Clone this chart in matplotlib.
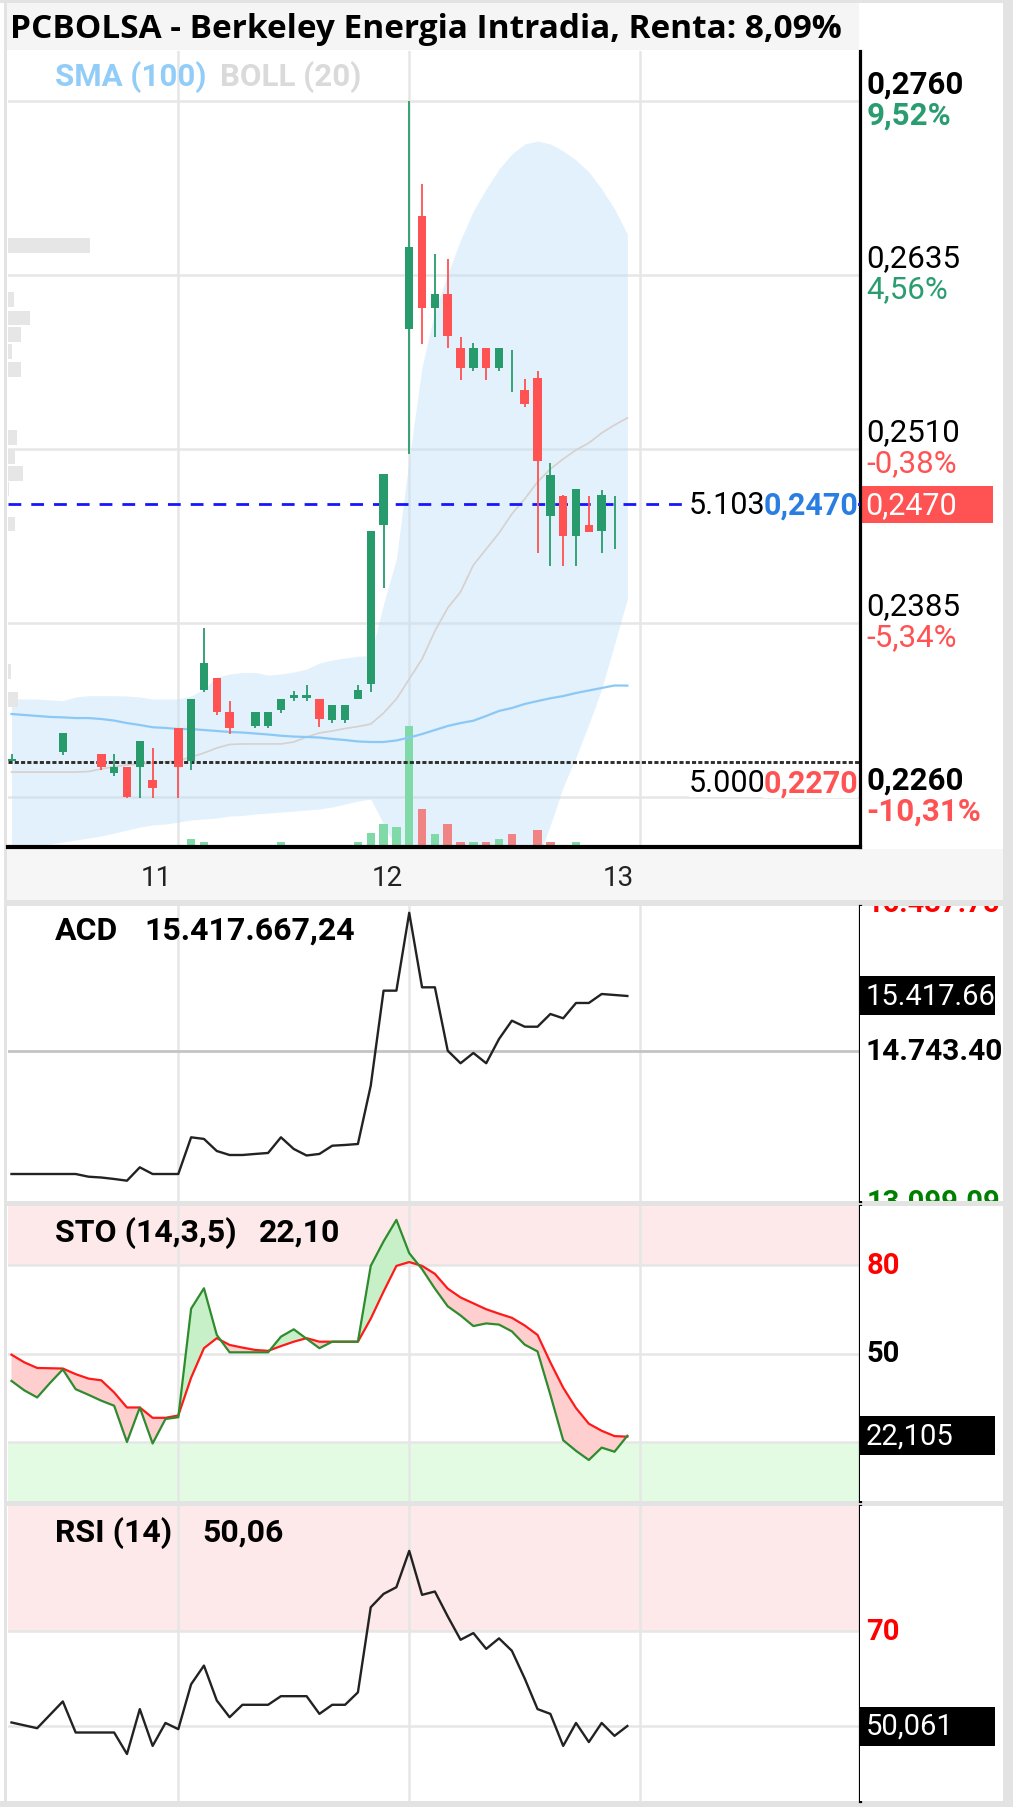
#!/usr/bin/python
import numpy as np
import matplotlib.pyplot as plt
from matplotlib.patches import Rectangle

plt.rcParams['font.family'] = ['Roboto', 'DejaVu Sans']

nan = np.nan
# half-hour slots, days 10 (partial), 11 and 12; nan = no trades in slot
opens = [0.2286, nan, nan, nan, 0.2292, nan, nan, 0.2291, 0.2277, 0.2281, 0.2281, 0.2272, nan,
         0.2309, 0.2286, 0.2337, 0.2345, 0.2321, nan, 0.2311, 0.2311, 0.2322, 0.2331, 0.2331, 0.2330,
         0.2315, 0.2315, 0.2330, 0.2341, 0.2455, 0.2492, 0.2596, 0.2677, 0.2611, 0.2621, 0.2582,
         0.2568, 0.2582, 0.2568, 0.2552, 0.2552, 0.2561, 0.2462, 0.2476, 0.2447, 0.2455, 0.2451,
         0.2470, 0.2470]
highs = [0.2291, nan, nan, nan, 0.2306, nan, nan, 0.2291, 0.2291, 0.2281, 0.2300, 0.2295, nan,
         0.2309, 0.2330, 0.2381, 0.2345, 0.2329, nan, 0.2321, 0.2321, 0.2330, 0.2336, 0.2340, 0.2330,
         0.2326, 0.2326, 0.2340, 0.2451, 0.2492, 0.2492, 0.2760, 0.2700, 0.2650, 0.2646, 0.2590,
         0.2586, 0.2582, 0.2582, 0.2581, 0.2560, 0.2566, 0.2500, 0.2477, 0.2481, 0.2476, 0.2480,
         0.2476, 0.2470]
lows = [0.2286, nan, nan, nan, 0.2290, nan, nan, 0.2279, 0.2275, 0.2259, 0.2259, 0.2259, nan,
        0.2259, 0.2279, 0.2335, 0.2319, 0.2305, nan, 0.2309, 0.2309, 0.2320, 0.2329, 0.2329, 0.2310,
        0.2313, 0.2313, 0.2330, 0.2335, 0.2410, 0.2492, 0.2506, 0.2585, 0.2590, 0.2582, 0.2559,
        0.2566, 0.2559, 0.2566, 0.2551, 0.2540, 0.2435, 0.2426, 0.2426, 0.2426, 0.2450, 0.2435,
        0.2438, 0.2470]
closes = [0.2287, nan, nan, nan, 0.2306, nan, nan, 0.2281, 0.2281, 0.2260, 0.2300, 0.2266, nan,
          0.2281, 0.2330, 0.2356, 0.2321, 0.2309, nan, 0.2321, 0.2321, 0.2330, 0.2333, 0.2333, 0.2316,
          0.2326, 0.2326, 0.2337, 0.2451, 0.2492, 0.2492, 0.2655, 0.2611, 0.2621, 0.2591, 0.2568,
          0.2582, 0.2568, 0.2582, 0.2552, 0.2542, 0.2501, 0.2491, 0.2447, 0.2481, 0.2450, 0.2477,
          0.2470, 0.2470]
volumes = [3, 0, 0, 0, 3, 0, 0, 3, 3, 3, 3, 3, 0, 3, 80, 50, 3, 3, 0, 3, 3, 50, 3, 3, 3, 3, 3, 50,
           140, 230, 200, 1210, 380, 130, 230, 50, 50, 50, 80, 130, 3, 170, 50, 3, 50, 3, 3, 3, 0]

sma100 = [0.23194, 0.23187, 0.23180, 0.23173, 0.23170, 0.23165, 0.23165, 0.23158, 0.23147, 0.23129,
          0.23115, 0.23099, 0.23094, 0.23086, 0.23086, 0.23079, 0.23072, 0.23065, 0.23061, 0.23054,
          0.23047, 0.23038, 0.23032, 0.23029, 0.23025, 0.23015, 0.23007, 0.22997, 0.22993, 0.22993,
          0.23004, 0.23025, 0.23050, 0.23079, 0.23108, 0.23129, 0.23146, 0.23180, 0.23216, 0.23237,
          0.23266, 0.23287, 0.23307, 0.23323, 0.23345, 0.23363, 0.23381, 0.23399, 0.23398]
boll_mid = [0.22777, 0.22777, 0.22777, 0.22777, 0.22777, 0.22777, 0.22781, 0.22799, 0.22817, 0.22828,
            0.22835, 0.22842, 0.22849, 0.22859, 0.22885, 0.22914, 0.22950, 0.22975, 0.22979, 0.22979,
            0.22979, 0.22979, 0.22993, 0.23029, 0.23058, 0.23072, 0.23090, 0.23104, 0.23122, 0.23201,
            0.23302, 0.23445, 0.23589, 0.23790, 0.23956, 0.24071, 0.24264, 0.24379, 0.24494, 0.24631,
            0.24739, 0.24861, 0.24954, 0.25026, 0.25091, 0.25141, 0.25213, 0.25270, 0.25321]
boll_up = [0.23302, 0.23302, 0.23302, 0.23295, 0.23290, 0.23316, 0.23326, 0.23326, 0.23326, 0.23323,
           0.23316, 0.23302, 0.23302, 0.23302, 0.23323, 0.23374, 0.23460, 0.23481, 0.23492, 0.23492,
           0.23474, 0.23481, 0.23496, 0.23517, 0.23560, 0.23582, 0.23596, 0.23609, 0.23613, 0.23984,
           0.24308, 0.25026, 0.25687, 0.26089, 0.26355, 0.26599, 0.26808, 0.26966, 0.27109, 0.27217,
           0.27289, 0.27310, 0.27289, 0.27239, 0.27174, 0.27088, 0.26966, 0.26822, 0.26642]
boll_low = [0.22253, 0.22253, 0.22253, 0.22260, 0.22274, 0.22289, 0.22303, 0.22318, 0.22339, 0.22361,
            0.22382, 0.22397, 0.22404, 0.22418, 0.22433, 0.22440, 0.22447, 0.22461, 0.22465, 0.22476,
            0.22483, 0.22490, 0.22497, 0.22504, 0.22512, 0.22526, 0.22547, 0.22569, 0.22583, 0.22404,
            0.22224, 0.21865, 0.21491, 0.21470, 0.21542, 0.21542, 0.21649, 0.21721, 0.21793, 0.21865,
            0.21973, 0.22138, 0.22397, 0.22670, 0.22885, 0.23122, 0.23374, 0.23697, 0.24020]

# volume at price (left profile)
profile_prices = [0.2656, 0.2617, 0.2604, 0.2592, 0.2580, 0.2567, 0.2518, 0.2504, 0.2492, 0.2481,
                  0.2456, 0.2350, 0.2330]
profile_vols = [1230, 90, 330, 195, 60, 195, 135, 105, 225, 15, 105, 45, 150]

acd = [13235, 13235, 13235, 13235, 13235, 13235, 13202, 13192, 13174, 13153, 13317, 13235, 13235,
       13235, 13685, 13665, 13517, 13468, 13468, 13481, 13493, 13685, 13542, 13462, 13481, 13582,
       13591, 13603, 14318, 15483, 15483, 16437.75, 15524, 15524, 14747, 14593, 14719, 14593, 14891,
       15115, 15041, 15041, 15197, 15144, 15332, 15332, 15442, 15430, 15417.66]
sto_k = [40.7, 37.5, 35.1, 40.0, 44.6, 37.9, 36.0, 34.0, 32.3, 20.0, 31.7, 19.5, 27.8, 28.4, 65.2,
         72.1, 56.3, 50.4, 50.4, 50.4, 50.4, 55.7, 58.2, 55.0, 51.8, 54.0, 54.0, 54.0, 79.7, 88.0,
         95.3, 84.0, 78.6, 72.0, 66.0, 62.9, 59.3, 60.2, 59.8, 57.5, 53.0, 50.7, 36.0, 20.6, 17.0,
         13.9, 18.1, 16.7, 22.1]
sto_d = [49.6, 47.0, 45.1, 45.0, 44.9, 43.0, 41.5, 40.9, 36.8, 31.7, 31.7, 28.2, 28.2, 29.0, 41.8,
         51.8, 55.2, 52.9, 52.0, 51.2, 50.9, 52.5, 54.0, 55.2, 54.0, 54.0, 54.0, 54.0, 61.8, 71.0,
         79.7, 81.0, 79.7, 77.0, 72.0, 69.0, 67.0, 65.0, 63.5, 62.1, 59.5, 56.3, 47.0, 38.4, 31.5,
         26.2, 23.8, 22.0, 21.8]
rsi = [50.8, 50.2, 49.6, 52.4, 55.2, 48.7, 48.7, 48.7, 48.7, 44.2, 53.6, 45.9, 50.7, 49.4, 58.8,
       62.7, 55.4, 51.9, 54.5, 54.5, 54.5, 56.3, 56.3, 56.3, 52.6, 54.5, 54.5, 57.1, 74.9, 77.7,
       79.1, 86.7, 77.5, 78.2, 73.0, 68.1, 69.5, 66.2, 68.4, 65.8, 60.0, 53.6, 52.6, 45.9, 50.7,
       46.7, 50.7, 48.0, 50.06]

price_ticks = [0.2760, 0.2635, 0.2510, 0.2385, 0.2260]
price_tick_labels = ['0,2760', '0,2635', '0,2510', '0,2385', '0,2260']
pct_labels = ['9,52%', '4,56%', '-0,38%', '-5,34%', '-10,31%']
day_labels = ['11', '12', '13']
day_starts = [13, 31, 49]
last_price, prev_close = 0.2470, 0.2285
ask_price, ask_size, ask_label = 0.2470, '5.103', '0,2470'
bid_price, bid_size, bid_label = 0.2270, '5.000', '0,2270'
title = 'PCBOLSA - Berkeley Energia Intradia, Renta: 8,09%'

GREEN, RED = '#279b6c', '#ff5252'
GRID = '#e6e6e6'

# ---------------------------------------------------------------- layout (pixels)
W, H = 1013, 1808
fig = plt.figure(figsize=(W / 100, H / 100), dpi=100)
fig.patch.set_facecolor('white')

def rect(x0, y0, x1, y1):
    return [x0 / W, 1 - y1 / H, (x1 - x0) / W, (y1 - y0) / H]

def fill_px(x0, y0, x1, y1, color):
    fig.add_artist(Rectangle((x0 / W, 1 - y1 / H), (x1 - x0) / W, (y1 - y0) / H,
                             transform=fig.transFigure, color=color, zorder=-1, lw=0))

def ftext(x, y, s, **kw):
    kw.setdefault('va', 'center')
    fig.text(x / W, 1 - y / H, s, **kw)

fill_px(0, 0, W, 4, '#e3e3e3')
fill_px(0, 1802, W, H, '#e3e3e3')
fill_px(4, 0, 7, H, '#e3e3e3')
fill_px(1003, 0, W, H, '#e3e3e3')
fill_px(7, 4, 859, 51, '#f5f5f5')
fill_px(7, 850, 1003, 901, '#f6f6f6')
for a, b in [(901, 907), (1202, 1207), (1502, 1507)]:
    fill_px(7, a, 1003, b, '#e3e3e3')

X0, SLOT = 11.5, 12.83          # pixel of slot 0, pixels per slot
xlim = ((8 - X0) / SLOT, (860 - X0) / SLOT)
idx = np.arange(len(closes))

def bare(a, face='none'):
    a.set_xticks([])
    a.set_yticks([])
    a.set_facecolor(face)
    for s in a.spines.values():
        s.set_visible(False)

def panel(y0, y1, ylim):
    a = fig.add_axes(rect(8, y0, 860, y1))
    bare(a, 'white')
    a.set_xlim(*xlim)
    a.set_ylim(*ylim)
    a.spines['right'].set_visible(True)
    a.spines['right'].set_color('black')
    a.spines['right'].set_linewidth(2.3)
    r = fig.add_axes(rect(860, y0, 1003, y1))
    bare(r, 'white')
    r.set_xlim(0, 1)
    r.set_ylim(*ylim)
    for d in day_starts:
        a.axvline(d, color=GRID, lw=1.8, zorder=0.5)
    return a, r

def rlabel(r, y, s, dy=0, color='black', weight='normal', size=22.5, x=0.045, coords='data'):
    r.annotate(s, (x, y), xycoords=('axes fraction', coords), xytext=(0, dy),
               textcoords='offset pixels', va='center', ha='left', color=color,
               fontweight=weight, fontsize=size, clip_on=True, annotation_clip=False, zorder=5)

def rbox(r, y, s, panel_px, color, half_px=19, x1=0.93, size=20.5):
    lo, hi = r.get_ylim()
    dy = (hi - lo) * half_px / panel_px
    r.add_patch(Rectangle((0.0, y - dy), x1, 2 * dy, transform=r.get_yaxis_transform(),
                          color=color, lw=0, zorder=3))
    rlabel(r, y, s, color='white', size=size, x=0.04)

# ---------------------------------------------------------------- price panel
P_TOP, P_BOT = 52, 848
PX_PER = 13920.0
ylim_p = (0.2760 - (P_BOT - 101.7) / PX_PER, 0.2760 + (101.7 - P_TOP) / PX_PER)
ax_bg, ax_r = panel(P_TOP, P_BOT, ylim_p)
ax_bg.spines['right'].set_visible(False)
for p in price_ticks:
    ax_bg.axhline(p, color=GRID, lw=1.8, zorder=0.5)
ax_bg.fill_between(idx, boll_low, boll_up, color='#bfe0f8', alpha=0.45, lw=0, zorder=1)

ax_vp = fig.add_axes(rect(8, P_TOP, 860, P_BOT))
bare(ax_vp)
ax_vp.set_ylim(*ylim_p)
ax_vp.set_xlim(0, 852 * 15)
ax_vp.barh(profile_prices, profile_vols, height=0.00105, color='#e6e6e6', lw=0)

ax_vol = fig.add_axes(rect(8, P_TOP, 860, P_BOT))
bare(ax_vol)
ax_vol.set_xlim(*xlim)
ax_vol.set_ylim(0, 7960)
vol_cols = []
prev = None
for c in closes:
    if np.isnan(c):
        vol_cols.append('#7fdaa7')
        continue
    vol_cols.append('#7fdaa7' if prev is None or c >= prev else '#f08383')
    prev = c
ax_vol.bar(idx, volumes, width=0.66, color=vol_cols, lw=0)

ax = fig.add_axes(rect(8, P_TOP, 860, P_BOT))
bare(ax)
ax.set_xlim(*xlim)
ax.set_ylim(*ylim_p)
ax.spines['right'].set_visible(True)
ax.spines['right'].set_color('black')
ax.spines['right'].set_linewidth(2.3)
ax.spines['bottom'].set_visible(True)
ax.spines['bottom'].set_color('black')
ax.spines['bottom'].set_linewidth(3)

ax.plot(idx, boll_mid, color='#d8d0cc', lw=1.2, zorder=2)
ax.plot(idx, sma100, color='#8cc8f6', lw=1.6, zorder=2)

o, hi_, lo_, c = (np.array(v, dtype=float) for v in (opens, highs, lows, closes))
ok = ~np.isnan(c) & (hi_ > lo_)
cols = np.where(c >= o, GREEN, RED)
ax.vlines(idx[ok], lo_[ok], hi_[ok], colors=cols[ok], lw=1.3, zorder=4)
ax.bar(idx[ok], np.abs(c - o)[ok], bottom=np.minimum(o, c)[ok], width=0.66,
       color=cols[ok], lw=0, zorder=5)

ax.axhline(prev_close, color='#2e2e2e', lw=2.1, ls=(0, (1.4, 0.75)), zorder=3)
ax.axhline(last_price, color='#1515ff', lw=2.0, ls=(0, (4.6, 3.6)), zorder=3)

def px_i(px):
    return (px - X0) / SLOT

for price, size, lab, col in [(ask_price, ask_size, ask_label, '#2a7de1'),
                              (bid_price, bid_size, bid_label, RED)]:
    ax.text(px_i(689), price, size, fontsize=22, va='center', ha='left', zorder=6,
            bbox=dict(fc='white', ec='none', pad=0))
    ax.text(px_i(858), price, lab, fontsize=22, va='center', ha='right', color=col,
            fontweight='bold', zorder=7, bbox=dict(fc='white', ec='none', pad=0))

for k, (p, lab, pct) in enumerate(zip(price_ticks, price_tick_labels, pct_labels)):
    bold = 'bold' if k in (0, len(price_ticks) - 1) else 'normal'
    pc = '#2a9d70' if not pct.startswith('-') else RED
    rlabel(ax_r, p, lab, dy=17, weight=bold)
    rlabel(ax_r, p, pct, dy=-14, weight=bold, color=pc)
rbox(ax_r, last_price, '0,2470', P_BOT - P_TOP, RED, half_px=18.5, x1=0.93, size=22)

for d, lab in zip(day_starts, day_labels):
    ax.text(d - 1.7, (P_BOT - 878) / (P_BOT - P_TOP), lab, transform=ax.get_xaxis_transform(),
            ha='center', va='center', fontsize=20, color='#222222', clip_on=False)

ftext(10, 29, title, fontsize=24, fontweight='bold', family=['Open Sans', 'DejaVu Sans'])
ftext(55, 77, 'SMA (100)', fontsize=22.5, fontweight='bold', color='#92cdf8')
ftext(220, 77, 'BOLL (20)', fontsize=22.5, fontweight='bold', color='#dadada')

# ---------------------------------------------------------------- ACD
A_TOP, A_BOT = 907, 1202
a_acd, r_acd = panel(A_TOP, A_BOT, (12904, 16521))
a_acd.axhline(14743.40, color='#c4c4c4', lw=2, zorder=0.6)
a_acd.plot(idx, acd, color='#222222', lw=1.7, zorder=3)
rlabel(r_acd, 1.0, '16.437.75', dy=3, color='#ff0000', weight='bold', size=21, coords='axes fraction')
rlabel(r_acd, 0.0, '13.099.09', dy=-1, color='#008000', weight='bold', size=21, coords='axes fraction')
rlabel(r_acd, 14743.40, '14.743.40', weight='bold', size=21.5, x=0.035)
rbox(r_acd, 15417.66, '15.417.66', A_BOT - A_TOP, 'black', half_px=19.5, x1=0.944, size=21)
ftext(55, 931, 'ACD', fontsize=23, fontweight='bold')
ftext(144, 931, '15.417.667,24', fontsize=23, fontweight='bold')

# ---------------------------------------------------------------- STO
S_TOP, S_BOT = 1207, 1502
a_sto, r_sto = panel(S_TOP, S_BOT, (0, 100))
a_sto.axhspan(80, 100, color='#fde9e9', lw=0, zorder=0.2)
a_sto.axhspan(0, 20, color='#e2fbe2', lw=0, zorder=0.2)
for v in (80, 50, 20):
    a_sto.axhline(v, color=GRID, lw=1.8, zorder=0.5)
k_arr, d_arr = np.array(sto_k), np.array(sto_d)
a_sto.fill_between(idx, k_arr, d_arr, where=k_arr >= d_arr, interpolate=True,
                   color='#c8f0c8', lw=0, zorder=1)
a_sto.fill_between(idx, k_arr, d_arr, where=k_arr < d_arr, interpolate=True,
                   color='#ffcfcf', lw=0, zorder=1)
a_sto.plot(idx, sto_d, color='#ff1a1a', lw=1.6, zorder=3)
a_sto.plot(idx, sto_k, color='#2e8b2e', lw=1.6, zorder=3)
rlabel(r_sto, 80, '80', color='#ff0000', weight='bold', size=21)
rlabel(r_sto, 50, '50', weight='bold', size=21)
rbox(r_sto, 22.105, '22,105', S_BOT - S_TOP, 'black', half_px=19.5, x1=0.944, size=21)
ftext(55, 1233, 'STO (14,3,5)', fontsize=23, fontweight='bold')
ftext(259, 1233, '22,10', fontsize=23, fontweight='bold')

# ---------------------------------------------------------------- RSI
R_TOP, R_BOT = 1507, 1802
a_rsi, r_rsi = panel(R_TOP, R_BOT, (34.37, 96.09))
a_rsi.axhspan(70, 100, color='#fde9e9', lw=0, zorder=0.2)
for v in (70, 50):
    a_rsi.axhline(v, color=GRID, lw=1.8, zorder=0.5)
a_rsi.plot(idx, rsi, color='#222222', lw=1.7, zorder=3)
rlabel(r_rsi, 70, '70', color='#ff0000', weight='bold', size=21)
rbox(r_rsi, 50.061, '50,061', R_BOT - R_TOP, 'black', half_px=19.5, x1=0.944, size=21)
ftext(55, 1533, 'RSI (14)', fontsize=23, fontweight='bold')
ftext(202, 1533, '50,06', fontsize=23, fontweight='bold')

fig.savefig('out.png', dpi=100)
